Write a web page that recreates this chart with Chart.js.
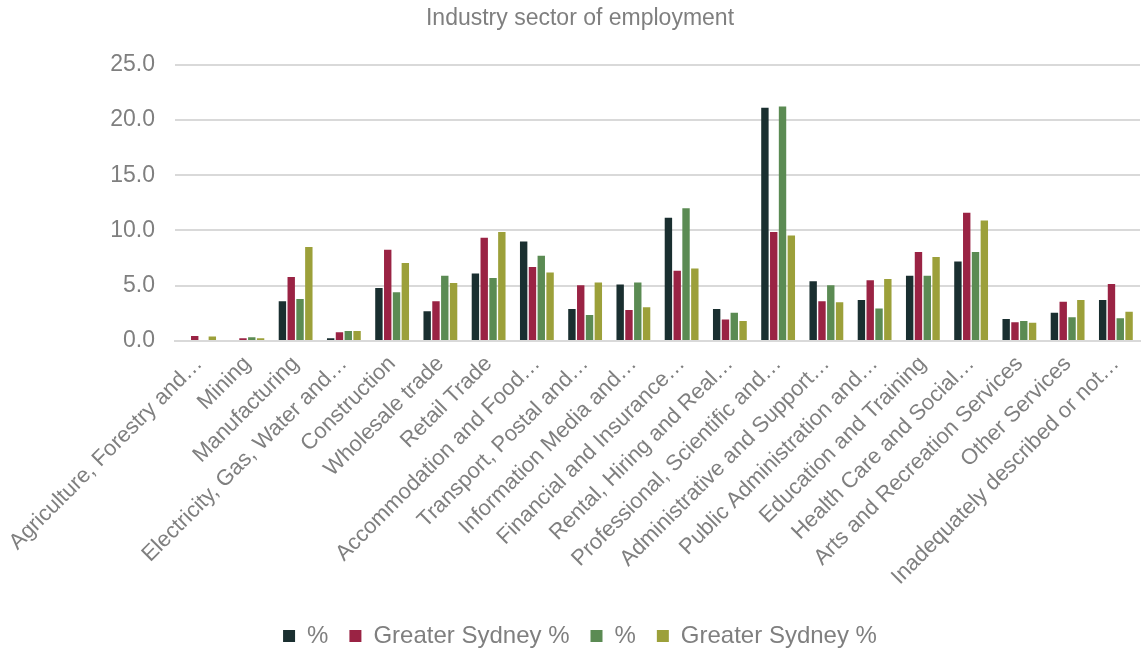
<!DOCTYPE html>
<html>
<head>
<meta charset="utf-8">
<script src="https://cdn.jsdelivr.net/npm/chart.js@4/dist/chart.umd.min.js"></script>
<style>
    html, body { margin: 0; padding: 0; background: #fff; }
    #wrap { width: 1144px; height: 651px; position: relative; }
</style>
</head>
<body>
<div id="wrap"><canvas id="sectorChart"></canvas></div>
<script>
const categories = [
    "Agriculture, Forestry and\u2026",
    "Mining",
    "Manufacturing",
    "Electricity, Gas, Water and\u2026",
    "Construction",
    "Wholesale trade",
    "Retail Trade",
    "Accommodation and Food\u2026",
    "Transport, Postal and\u2026",
    "Information Media and\u2026",
    "Financial and Insurance\u2026",
    "Rental, Hiring and Real\u2026",
    "Professional, Scientific and\u2026",
    "Administrative and Support\u2026",
    "Public Administration and\u2026",
    "Education and Training",
    "Health Care and Social\u2026",
    "Arts and Recreation Services",
    "Other Services",
    "Inadequately described or not\u2026"
];

// series values (%)
const area1 = [0, 0, 3.6, 0.25, 4.8, 2.7, 6.1, 9.0, 2.9, 5.1, 11.15, 2.9, 21.1, 5.4, 3.7, 5.9, 7.2, 2.0, 2.55, 3.7];
const sydney1 = [0.45, 0.25, 5.8, 0.8, 8.25, 3.6, 9.35, 6.7, 5.05, 2.8, 6.35, 1.95, 9.85, 3.6, 5.5, 8.05, 11.6, 1.7, 3.55, 5.15];
const area2 = [0, 0.35, 3.8, 0.9, 4.4, 5.9, 5.7, 7.7, 2.35, 5.3, 12.0, 2.55, 21.2, 5.05, 2.95, 5.9, 8.05, 1.8, 2.15, 2.05];
const sydney2 = [0.4, 0.25, 8.5, 0.9, 7.05, 5.25, 9.85, 6.2, 5.3, 3.05, 6.55, 1.8, 9.55, 3.5, 5.6, 7.6, 10.9, 1.65, 3.7, 2.65];

const seriesLabels = ["%", "Greater Sydney %", "%", "Greater Sydney %"];
const seriesColors = ["#1a2f30", "#9a2344", "#5b8b53", "#9ca03a"];

const yTicks = [0, 5, 10, 15, 20, 25];

const textColor = "#7f7f7f";
const fontFamily = "'Liberation Sans', Arial, sans-serif";

const datasets = [area1, sydney1, area2, sydney2].map(function (values, i) {
    return {
        label: seriesLabels[i],
        data: values,
        backgroundColor: seriesColors[i],
        borderWidth: 0,
        categoryPercentage: 0.73,
        barPercentage: 0.84
    };
});

const ctx = document.getElementById("sectorChart").getContext("2d");
new Chart(ctx, {
    type: "bar",
    data: { labels: categories, datasets: datasets },
    options: {
        responsive: true,
        maintainAspectRatio: false,
        animation: false,
        // negative bottom padding pushes the legend closer to the edge
        layout: { padding: { top: 0, right: 4, left: 20, bottom: -7 } },
        plugins: {
            title: {
                display: true,
                text: "Industry sector of employment",
                color: textColor,
                font: { family: fontFamily, size: 23, weight: "normal" },
                padding: { top: 5, bottom: 32 }
            },
            legend: {
                position: "bottom",
                labels: {
                    color: textColor,
                    font: { family: fontFamily, size: 24 },
                    boxWidth: 12,
                    boxHeight: 12,
                    padding: 1,
                    generateLabels: function (chart) {
                        const items = Chart.defaults.plugins.legend.labels.generateLabels(chart);
                        // extra room between legend entries
                        items.forEach(function (item, i) {
                            if (i < items.length - 1) item.text = item.text + "   ";
                        });
                        return items;
                    }
                }
            },
            tooltip: { enabled: false }
        },
        scales: {
            x: {
                grid: { display: false },
                border: { display: true, color: "#d9d9d9", width: 2 },
                ticks: {
                    color: textColor,
                    font: { family: fontFamily, size: 22 },
                    minRotation: 45,
                    maxRotation: 45,
                    autoSkip: false,
                    padding: 2
                },
                afterFit: function (scale) { scale.height = 282; }
            },
            y: {
                min: 0,
                max: 25,
                afterBuildTicks: function (scale) {
                    scale.ticks = yTicks.map(function (v) { return { value: v }; });
                },
                grid: { color: "#d9d9d9", lineWidth: 2, drawTicks: false },
                border: { display: false },
                ticks: {
                    color: textColor,
                    font: { family: fontFamily, size: 23 },
                    padding: 20,
                    callback: function (v) { return Number(v).toFixed(1); }
                },
                afterFit: function (scale) { scale.width = 155; }
            }
        }
    }
});
</script>
</body>
</html>
